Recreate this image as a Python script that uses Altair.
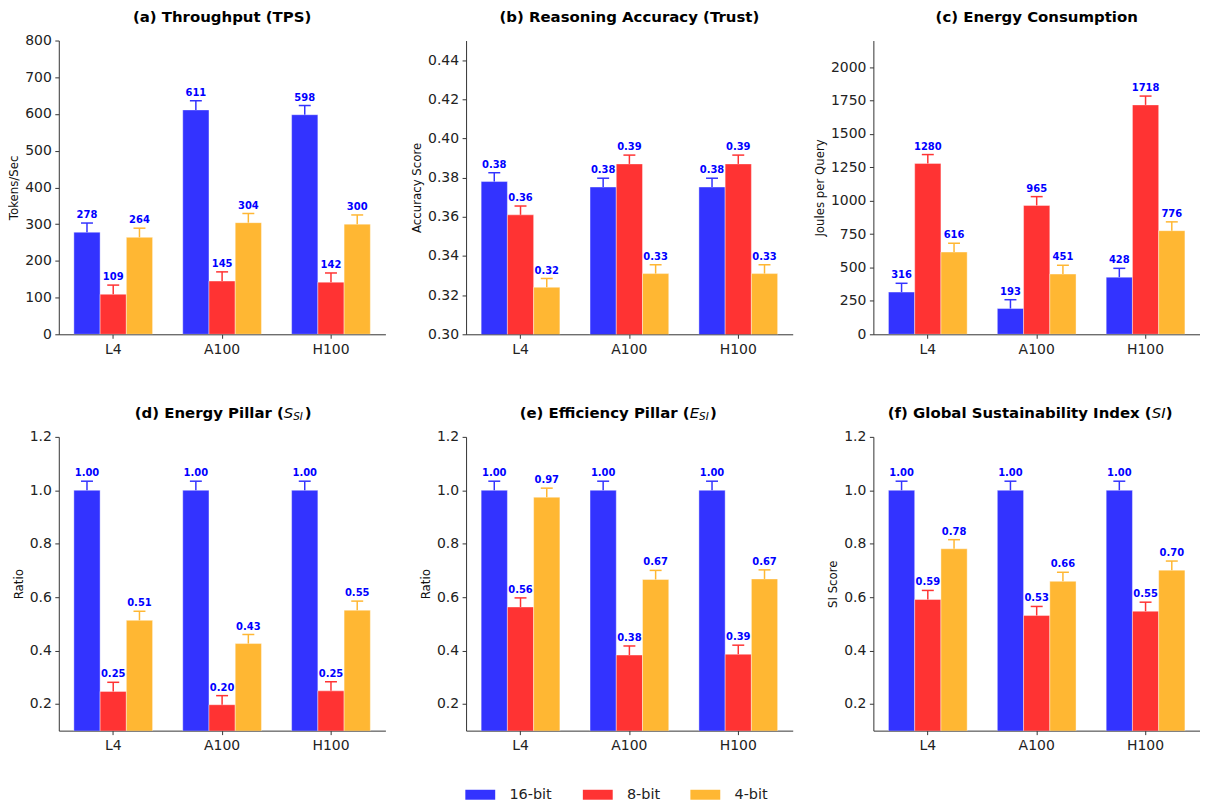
import altair as alt
import pandas as pd

gpus = ["L4", "A100", "H100"]
precisions = ["16-bit", "8-bit", "4-bit"]
bar_colors = ["#3333ff", "#ff3333", "#ffb733"]

throughput = {"16-bit": [278, 611, 598], "8-bit": [109, 145, 142], "4-bit": [264, 304, 300]}
accuracy = {"16-bit": [0.378, 0.3752, 0.3752], "8-bit": [0.361, 0.387, 0.387], "4-bit": [0.324, 0.331, 0.331]}
energy = {"16-bit": [316, 193, 428], "8-bit": [1280, 965, 1718], "4-bit": [616, 451, 776]}
energy_pillar = {"16-bit": [1.0, 1.0, 1.0], "8-bit": [0.247, 0.197, 0.249], "4-bit": [0.513, 0.426, 0.551]}
efficiency_pillar = {"16-bit": [1.0, 1.0, 1.0], "8-bit": [0.563, 0.383, 0.386], "4-bit": [0.974, 0.666, 0.668]}
sustainability = {"16-bit": [1.0, 1.0, 1.0], "8-bit": [0.591, 0.531, 0.547], "4-bit": [0.781, 0.659, 0.701]}

panel_values = [throughput, accuracy, energy, energy_pillar, efficiency_pillar, sustainability]
error_sizes = [25, 0.0045, 66, 0.034, 0.034, 0.034]
y_titles = ["Tokens/Sec", "Accuracy Score", "Joules per Query", "Ratio", "Ratio", "SI Score"]
y_domains = [[0, 800], [0.30, 0.45], [0, 2200], [0.1, 1.2], [0.1, 1.2], [0.1, 1.2]]
y_ticks = [
    [0, 100, 200, 300, 400, 500, 600, 700, 800],
    [0.30, 0.32, 0.34, 0.36, 0.38, 0.40, 0.42, 0.44],
    [0, 250, 500, 750, 1000, 1250, 1500, 1750, 2000],
    [0.2, 0.4, 0.6, 0.8, 1.0, 1.2],
    [0.2, 0.4, 0.6, 0.8, 1.0, 1.2],
    [0.2, 0.4, 0.6, 0.8, 1.0, 1.2],
]
axis_formats = ["d", ".2f", "d", ".1f", ".1f", ".1f"]
label_formats = ["d", ".2f", "d", ".2f", ".2f", ".2f"]

# title pieces: (text, x, y, weight, style, size, align)
W, H = 328, 295
TY = -19
TS = 15
SS = 10.4
title_parts = [
    [("(a) Throughput (TPS)", W / 2, TY, "bold", "normal", TS, "center")],
    [("(b) Reasoning Accuracy (Trust)", W / 2, TY, "bold", "normal", TS, "center")],
    [("(c) Energy Consumption", W / 2, TY, "bold", "normal", TS, "center")],
    [("(d) Energy Pillar (", 226, TY, "bold", "normal", TS, "right"),
     ("S", 226, TY, "normal", "italic", TS, "left"),
     ("SI", 235.5, TY + 2.5, "normal", "italic", SS, "left"),
     (")", 247, TY, "bold", "normal", TS, "left")],
    [("(e) Efficiency Pillar (", 224.5, TY, "bold", "normal", TS, "right"),
     ("E", 224.5, TY, "normal", "italic", TS, "left"),
     ("SI", 234, TY + 2.5, "normal", "italic", SS, "left"),
     (")", 245, TY, "bold", "normal", TS, "left")],
    [("(f) Global Sustainability Index (", 279.5, TY, "bold", "normal", TS, "right"),
     ("SI", 279.5, TY, "normal", "italic", TS, "left"),
     (")", 293.5, TY, "bold", "normal", TS, "left")],
]

AXC = "#333333"


def make_panel(i):
    vals = panel_values[i]
    err = error_sizes[i]
    rows = []
    for p in precisions:
        for g, v in zip(gpus, vals[p]):
            rows.append({"gpu": g, "prec": p, "value": v, "top": v + err})
    df = pd.DataFrame(rows)

    yscale = alt.Scale(domain=y_domains[i], nice=False, zero=False)
    yaxis = alt.Axis(title=y_titles[i], values=y_ticks[i], format=axis_formats[i],
                     grid=False, labelFontSize=14, tickSize=4, labelPadding=3.5,
                     titleFontSize=11.8, titleFontWeight="normal", titlePadding=5,
                     labelOverlap=False,
                     domainColor=AXC, tickColor=AXC, labelColor="#222222",
                     titleColor="#111111")
    base = alt.Chart(df).encode(
        x=alt.X("gpu:N", sort=gpus,
                scale=alt.Scale(paddingInner=0.277, paddingOuter=0.1385),
                axis=alt.Axis(title=None, labelAngle=0, labelFontSize=14, tickSize=4,
                              labelPadding=4, domainColor=AXC, tickColor=AXC,
                              labelColor="#222222")),
        xOffset=alt.XOffset("prec:N", sort=precisions,
                            scale=alt.Scale(paddingInner=0, paddingOuter=0)),
    )
    bars = base.mark_bar(clip=True, stroke="white", strokeWidth=0.8, strokeOpacity=0.5).encode(
        y=alt.Y("value:Q", scale=yscale, axis=yaxis),
        color=alt.Color("prec:N", sort=precisions,
                        scale=alt.Scale(domain=precisions, range=bar_colors),
                        legend=alt.Legend(title=None, orient="none", legendX=416, legendY=750,
                                          direction="horizontal",
                                          symbolType="M-3,-1H3V1H-3Z", symbolSize=100,
                                          symbolStrokeWidth=0, labelFontSize=14.5,
                                          labelOffset=22, columnPadding=30,
                                          labelColor="#222222")),
    )
    rules = base.mark_rule(strokeWidth=1.5).encode(
        y=alt.Y("value:Q", scale=yscale, axis=yaxis),
        y2="top:Q",
        stroke=alt.Stroke("prec:N", sort=precisions,
                          scale=alt.Scale(domain=precisions, range=bar_colors), legend=None),
    )
    caps = base.mark_tick(thickness=1.5, size=12, opacity=1).encode(
        y=alt.Y("top:Q", scale=yscale, axis=yaxis),
        fill=alt.Fill("prec:N", sort=precisions,
                      scale=alt.Scale(domain=precisions, range=bar_colors), legend=None),
    )
    labels = base.mark_text(fontWeight="bold", fontSize=10, color="#0000ff",
                            baseline="alphabetic", dy=-5).encode(
        y=alt.Y("top:Q", scale=yscale, axis=yaxis),
        text=alt.Text("value:Q", format=label_formats[i]),
    )
    layers = [bars, rules, caps, labels]
    for (t, x, y, wt, st, sz, al) in title_parts[i]:
        tdf = pd.DataFrame({"t": [t]})
        layers.append(
            alt.Chart(tdf).mark_text(fontWeight=wt, fontStyle=st, fontSize=sz, align=al,
                                     baseline="alphabetic", color="black").encode(
                x=alt.value(x), y=alt.value(y), text="t:N")
        )
    return alt.layer(*layers).properties(width=W, height=H)


panels = [make_panel(i) for i in range(6)]
chart = alt.concat(*panels, columns=3, spacing={"row": 103, "column": 81}, bounds="flush").configure(
    font="DejaVu Sans", padding=0
).configure_view(stroke=None)

chart.save("out.html", embed_options={"renderer": "svg", "actions": False})
